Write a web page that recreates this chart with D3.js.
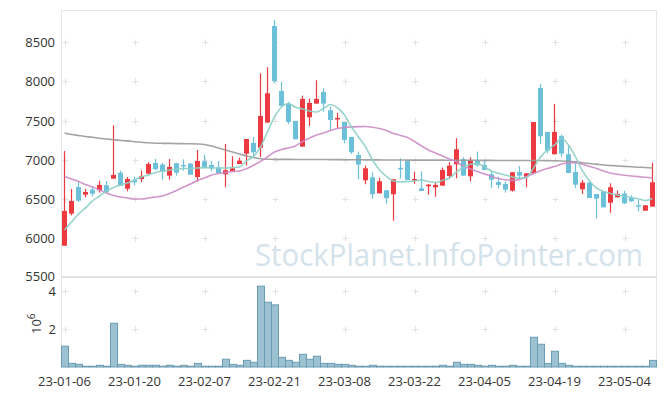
<!DOCTYPE html>
<html>
<head>
<meta charset="utf-8">
<script src="https://cdn.jsdelivr.net/npm/d3@7"></script>
<style>
  body { margin: 0; background: #fff; }
  svg { display: block; font-family: "Open Sans", sans-serif; }
</style>
</head>
<body>
<svg id="chart" width="665" height="396"></svg>
<script>
// trading days shown on the chart
var dates = ["23-01-06","23-01-09","23-01-10","23-01-11","23-01-12","23-01-13","23-01-16","23-01-17","23-01-18","23-01-19",
  "23-01-20","23-01-25","23-01-26","23-01-27","23-01-30","23-01-31","23-02-01","23-02-02","23-02-03","23-02-06",
  "23-02-07","23-02-08","23-02-09","23-02-10","23-02-13","23-02-14","23-02-15","23-02-16","23-02-17","23-02-20",
  "23-02-21","23-02-22","23-02-23","23-02-24","23-02-27","23-02-28","23-03-02","23-03-03","23-03-06","23-03-07",
  "23-03-08","23-03-09","23-03-10","23-03-13","23-03-14","23-03-15","23-03-16","23-03-17","23-03-20","23-03-21",
  "23-03-22","23-03-23","23-03-24","23-03-27","23-03-28","23-03-29","23-03-30","23-03-31","23-04-03","23-04-04",
  "23-04-05","23-04-06","23-04-07","23-04-10","23-04-11","23-04-12","23-04-13","23-04-14","23-04-17","23-04-18",
  "23-04-19","23-04-20","23-04-21","23-04-24","23-04-25","23-04-26","23-04-27","23-04-28","23-05-02","23-05-03",
  "23-05-04","23-05-08","23-05-09","23-05-10","23-05-11"];

var open = [5900,6310,6651,6553,6617,6609,6673,6757,6834,6629,
  6740,6753,6821,6958,6937,6796,6954,6933,6950,6779,
  6980,6933,6900,6814,6856,6945,7077,7214,7154,7474,
  8710,7879,7713,7495,7167,7543,7717,7866,7632,7517,
  7482,7291,7060,6737,6775,6570,6609,6558,6895,6984,
  6745,6634,6660,6647,6668,6792,6941,7006,6788,6988,
  6933,6813,6715,6690,6604,6843,6783,6826,7917,7355,
  7069,7300,7069,6843,6622,6707,6562,6596,6450,6519,
  6566,6510,6417,6348,6400];
var high = [7112,6625,6715,6626,6655,6732,6727,7440,6860,6779,
  6783,6860,6968,7010,6960,7009,6960,7005,6960,7124,
  7065,6984,6984,7201,7044,7026,7265,7287,8105,8182,
  8787,7998,7742,7495,7819,7781,8016,7913,7679,7598,
  7482,7291,7103,6924,6839,6770,6609,6750,7018,6984,
  6847,6852,6690,6706,6900,6967,7274,7031,7031,7103,
  6988,6865,6783,6719,6839,6920,6826,7482,7968,7355,
  7713,7320,7180,6962,6740,6728,6562,6596,6698,6604,
  6604,6545,6485,6420,6962];
var low = [5900,6290,6460,6519,6532,6578,6583,6757,6664,6596,
  6673,6712,6805,6869,6745,6745,6796,6860,6808,6720,
  6890,6852,6830,6647,6856,6945,6924,7026,7035,7474,
  7977,7687,7457,7261,7167,7431,7717,7614,7367,7406,
  7210,7073,6750,6686,6501,6570,6438,6220,6762,6741,
  6690,6600,6551,6527,6668,6758,6762,6796,6724,6911,
  6865,6638,6634,6579,6591,6750,6647,6826,7201,7082,
  7069,7039,6830,6638,6562,6510,6250,6391,6322,6519,
  6434,6459,6340,6348,6400];
var close = [6344,6472,6476,6587,6565,6677,6583,6805,6668,6753,
  6710,6787,6945,6878,6847,6907,6834,6920,6808,6984,
  6898,6890,6830,6865,6890,6988,7265,7095,7559,7849,
  8007,7687,7482,7261,7777,7726,7777,7717,7508,7534,
  7252,7095,6937,6890,6558,6724,6507,6750,6885,6741,
  6753,6600,6681,6677,6868,6924,7133,6796,6997,6929,
  6869,6745,6677,6617,6839,6796,6826,7482,7300,7115,
  7355,7078,6830,6681,6707,6510,6502,6391,6647,6562,
  6442,6468,6408,6417,6711];

// volume, shares
var volume = [1100000,190000,140000,40000,40000,90000,40000,2310000,140000,90000,
  40000,90000,90000,90000,40000,90000,40000,90000,40000,190000,
  40000,40000,40000,410000,140000,90000,350000,250000,4270000,3420000,
  3280000,510000,350000,250000,670000,410000,570000,190000,190000,140000,
  140000,90000,40000,40000,90000,40000,40000,40000,40000,40000,
  40000,40000,40000,40000,90000,40000,250000,140000,140000,90000,
  40000,90000,40000,40000,90000,40000,40000,1570000,1200000,190000,
  830000,190000,90000,40000,40000,40000,40000,40000,40000,40000,
  40000,40000,40000,40000,350000];

// moving averages
var ma5 = [6101,6203,6306,6383,6472,6536,6600,6645,6677,6702,
  6741,6779,6805,6837,6856,6869,6881,6888,6888,6894,
  6898,6894,6894,6894,6898,6907,6984,7040,7163,7355,
  7546,7674,7719,7670,7649,7623,7610,7655,7706,7661,
  7572,7418,7291,7163,6996,6869,6786,6728,6715,6722,
  6728,6741,6722,6709,6735,6766,6843,6904,6942,6950,
  6907,6856,6826,6805,6779,6762,6773,6894,7035,7124,
  7188,7271,7188,7035,6856,6728,6638,6594,6568,6549,
  6530,6517,6498,6478,6504];
var ma20 = [6785,6753,6722,6683,6651,6613,6574,6542,6523,6510,
  6498,6498,6510,6523,6536,6568,6606,6651,6690,6734,
  6766,6805,6824,6837,6847,6856,6884,6929,6977,7035,
  7099,7131,7150,7176,7233,7278,7316,7342,7374,7399,
  7412,7419,7423,7425,7415,7399,7374,7335,7310,7284,
  7233,7176,7124,7086,7048,7009,6971,6920,6881,6849,
  6817,6786,6760,6743,6735,6747,6783,6824,6860,6888,
  6913,6945,6958,6962,6941,6913,6888,6856,6830,6813,
  6801,6792,6783,6775,6766];
var ma60 = [7342,7323,7310,7297,7287,7274,7265,7255,7246,7240,
  7230,7223,7216,7211,7209,7208,7206,7205,7204,7201,
  7195,7175,7150,7124,7099,7073,7048,7028,7013,7005,
  7005,7004,7004,7003,7003,7003,7002,7002,7001,7001,
  7000,7000,6999,6998,6997,6997,6996,6996,6996,6995,
  6995,6995,6994,6994,6994,6993,6993,6992,6992,6992,
  6991,6991,6990,6990,6990,6990,6989,6989,6989,6988,
  6987,6984,6978,6973,6960,6952,6943,6932,6926,6920,
  6915,6910,6904,6901,6894];

var priceTicks = [5500, 6000, 6500, 7000, 7500, 8000, 8500];
var volTicks = [2000000, 4000000];
var dateTicks = ["23-01-06","23-01-20","23-02-07","23-02-21","23-03-08","23-03-22","23-04-05","23-04-19","23-05-04"];

var left = 61, right = 656;
var pTop = 10, pBottom = 277;
var vTop = 278, vBottom = 367;
var upColor = "#ec3a40", downColor = "#6cc0d9";

var svg = d3.select("#chart");

var x = d3.scaleBand().domain(dates).range([left, right]).padding(0);
var bw = x.bandwidth();
var cx = function(d) { return x(d) + bw / 2; };
var y = d3.scaleLinear().domain([5500, 8914]).range([pBottom, pTop]);
var yv = d3.scaleLinear().domain([0, 4700000]).range([vBottom, vTop]);

// frames
svg.append("rect").attr("x", left + 0.5).attr("y", pTop + 0.5)
   .attr("width", right - left).attr("height", pBottom - pTop)
   .attr("fill", "none").attr("stroke", "#e6e6e6");
svg.append("line").attr("x1", left).attr("x2", right + 1).attr("y1", pBottom).attr("y2", pBottom)
   .attr("stroke", "#e3e3e3").attr("stroke-width", 2);
svg.append("line").attr("x1", left + 0.5).attr("x2", left + 0.5).attr("y1", vTop).attr("y2", vBottom)
   .attr("stroke", "#e6e6e6");
svg.append("line").attr("x1", right + 0.5).attr("x2", right + 0.5).attr("y1", vTop).attr("y2", vBottom)
   .attr("stroke", "#e6e6e6");

// grid crosses
function crosses(xs, ys) {
  var g = svg.append("g").attr("stroke", "#e2e2e2").attr("stroke-width", 1);
  xs.forEach(function(d) {
    ys.forEach(function(yy) {
      var px = Math.round(cx(d)) + 0.5, py = Math.round(yy) + 0.5;
      g.append("line").attr("x1", px - 3).attr("x2", px + 3).attr("y1", py).attr("y2", py);
      g.append("line").attr("x1", px).attr("x2", px).attr("y1", py - 3).attr("y2", py + 3);
    });
  });
}
crosses(dateTicks, priceTicks.slice(1).map(y));
crosses(dateTicks, volTicks.map(yv));

// watermark
svg.append("text").attr("x", 255).attr("y", 266)
   .attr("font-size", 31).attr("textLength", 388).attr("lengthAdjust", "spacingAndGlyphs")
   .attr("fill", "#d3e2eb").text("StockPlanet.InfoPointer.com");

// candles
var candles = svg.append("g");
dates.forEach(function(d, i) {
  var up = close[i] >= open[i];
  var col = up ? upColor : downColor;
  candles.append("line")
    .attr("x1", cx(d)).attr("x2", cx(d))
    .attr("y1", y(high[i])).attr("y2", y(low[i]))
    .attr("stroke", col).attr("stroke-width", 1.2);
  var top = y(Math.max(open[i], close[i])), bot = y(Math.min(open[i], close[i]));
  candles.append("rect")
    .attr("x", cx(d) - 2.5).attr("width", 5)
    .attr("y", top).attr("height", Math.max(1.5, bot - top))
    .attr("fill", col);
});

// moving averages
function maLine(vals, color) {
  var line = d3.line().x(function(v, i) { return cx(dates[i]); }).y(function(v) { return y(v); })
    .curve(d3.curveMonotoneX);
  svg.append("path").datum(vals).attr("d", line)
     .attr("fill", "none").attr("stroke", color).attr("stroke-width", 1.6).attr("opacity", 0.9);
}
maLine(ma60, "#999999");
maLine(ma20, "#cc8bc6");
maLine(ma5, "#8ecfc6");

// volume bars
svg.append("g").selectAll("rect").data(dates).enter().append("rect")
   .attr("x", function(d) { return x(d) + 0.5; })
   .attr("width", bw)
   .attr("y", function(d, i) { return yv(volume[i]); })
   .attr("height", function(d, i) { return vBottom - yv(volume[i]); })
   .attr("fill", "#9cc2d2")
   .attr("stroke", "#6a9cb4").attr("stroke-width", 1);

// axes labels
var labels = svg.append("g").attr("font-size", 13).attr("fill", "#333");
priceTicks.forEach(function(p) {
  labels.append("text").attr("x", 55).attr("y", y(p) + (p === 5500 ? 4 : 5))
        .attr("text-anchor", "end").text(p);
});
volTicks.forEach(function(v) {
  labels.append("text").attr("x", 56).attr("y", yv(v) + 5)
        .attr("text-anchor", "end").text(v / 1000000);
});
var vl = labels.append("text").attr("transform", "translate(41,334) rotate(-90)");
vl.append("tspan").text("10");
vl.append("tspan").attr("font-size", 10).attr("dy", -6).text("6");
dateTicks.forEach(function(d) {
  labels.append("text").attr("x", cx(d)).attr("y", 386)
        .attr("text-anchor", "middle").text(d);
});
</script>
</body>
</html>
